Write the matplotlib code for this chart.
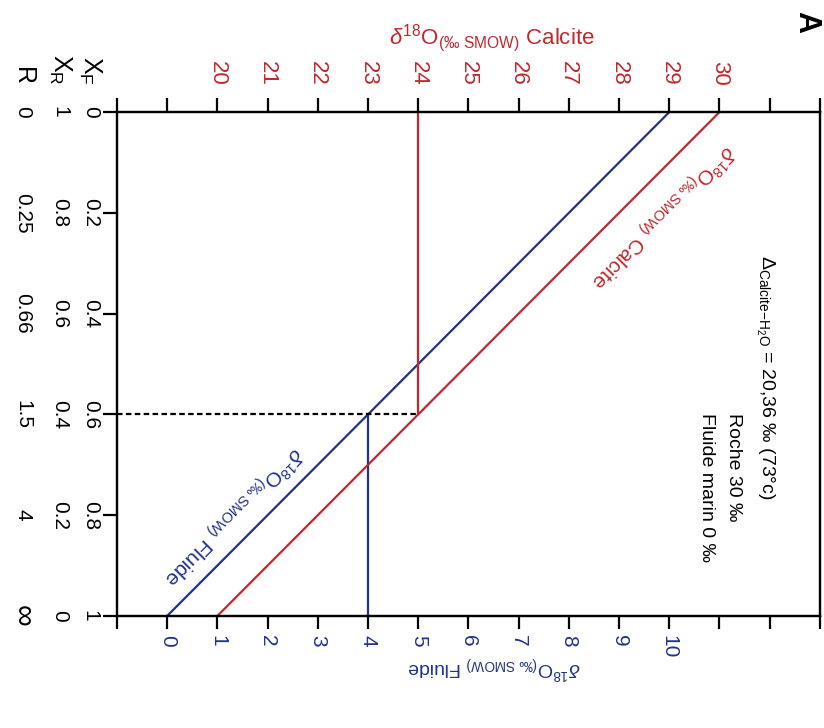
import matplotlib.pyplot as plt
from matplotlib import transforms

plt.rcParams['font.family'] = ['Liberation Sans', 'DejaVu Sans']
plt.rcParams['mathtext.fontset'] = 'custom'
plt.rcParams['mathtext.rm'] = 'Liberation Sans'
plt.rcParams['mathtext.it'] = 'Liberation Sans:italic'
plt.rcParams['mathtext.bf'] = 'Liberation Sans:bold'

RED = '#c1272d'
BLUE = '#22318a'

# fraction de fluide XF (0 en haut, 1 en bas)
xf = [0, 1]
calcite = [30, 20]     # d18O calcite (axe du haut)
fluide = [10, 0]       # d18O fluide (axe du bas)
xf_cut = 0.6
calcite_cut = 24
fluide_cut = 4

fluide_ticks = list(range(-1, 14))
fluide_labels = [str(v) if 0 <= v <= 10 else '' for v in fluide_ticks]
calcite_ticks = list(range(18, 33))
calcite_labels = [str(v) if 20 <= v <= 30 else '' for v in calcite_ticks]

xf_ticks = [0, 0.2, 0.4, 0.6, 0.8, 1]
xf_labels = ['0', '0.2', '0.4', '0.6', '0.8', '1']
xr_labels = ['1', '0.8', '0.6', '0.4', '0.2', '0']
r_labels = ['0', '0.25', '0.66', '1.5', '4', '∞']

fig = plt.figure(figsize=(8.24, 7.28), dpi=100)
ax = fig.add_axes([0.142, 0.154, 0.853, 0.692])
ax.set_xlim(-1, 13)
ax.set_ylim(1, 0)
axc = ax.twiny()
axc.set_xlim(18, 32)

for a in (ax, axc):
    for s in a.spines.values():
        s.set_linewidth(1.6)

# droites
axc.plot(calcite, xf, color=RED, lw=1.6)
ax.plot(fluide, xf, color=BLUE, lw=1.6)
axc.plot([calcite_cut, calcite_cut], [0, xf_cut], color=RED, lw=1.6)
ax.plot([fluide_cut, fluide_cut], [xf_cut, 1], color=BLUE, lw=1.6)
axc.plot([18, calcite_cut], [xf_cut, xf_cut], color='black', lw=1.6, ls=(0, (2.5, 1.5)))

# axe du bas (fluide)
ax.set_xticks(fluide_ticks)
ax.set_xticklabels(fluide_labels)
ax.tick_params(axis='x', direction='out', length=9, width=1.6, pad=5,
               labelcolor=BLUE, labelsize=15, labelrotation=-90)
ax.set_yticks(xf_ticks)
ax.set_yticklabels([])
ax.tick_params(axis='y', direction='out', length=10, width=1.6)

# axe du haut (calcite)
axc.set_xticks(calcite_ticks)
axc.set_xticklabels(calcite_labels)
axc.tick_params(axis='x', direction='out', length=10, width=1.6, pad=9,
                labelcolor=RED, labelsize=16, labelrotation=-90)

sub = r'$_{\mathrm{(‰\ SMOW)}}$'
ax.text(0.533, 1.147, r'$\delta^{18}$O' + sub + ' Calcite', transform=ax.transAxes,
        color=RED, fontsize=16, ha='center', va='center')
ax.text(0.536, -0.102, r'$\delta^{18}$O' + sub + ' Fluide', transform=ax.transAxes,
        color=BLUE, fontsize=14, ha='center', va='center', rotation=180)

# etiquettes le long des droites
axc.text(28.85, 0.205, r'$\delta^{18}$O' + sub + ' Calcite', color=RED, fontsize=15,
         rotation=225, rotation_mode='anchor', ha='center', va='center')
ax.text(1.3, 0.8, r'$\delta^{18}$O' + sub + ' Fluide', color=BLUE, fontsize=15,
        rotation=225, rotation_mode='anchor', ha='center', va='center')

# colonnes XF, XR, R
tr = transforms.blended_transform_factory(ax.transAxes, ax.transData)
cols = [(-0.038, xf_labels, r'X$_{\mathrm{F}}$'),
        (-0.081, xr_labels, r'X$_{\mathrm{R}}$'),
        (-0.134, r_labels, 'R')]
for xpos, labels, head in cols:
    for yv, lab in zip(xf_ticks, labels):
        size = 22 if lab == '∞' else 15
        ax.text(xpos, yv, lab, transform=tr, rotation=-90, fontsize=size,
                ha='center', va='center')
    ax.text(xpos, -0.054, head, transform=tr, rotation=-90, fontsize=18,
            ha='center', va='bottom')

# encart
ax.text(11.91, 0.284, r'$\Delta_{\mathrm{Calcite\!-\!H_2O}}$ = 20,36 ‰ (73°c)',
        rotation=-90, fontsize=14, ha='center', va='top')
ax.text(11.27, 0.597, 'Roche 30 ‰', rotation=-90, fontsize=14, ha='center', va='top')
ax.text(10.75, 0.597, 'Fluide marin 0 ‰', rotation=-90, fontsize=14, ha='center', va='top')

fig.text(806 / 824, 1 - 22 / 728, 'A', rotation=-90, fontsize=22, fontweight='bold',
         ha='center', va='center')

fig.savefig('out.png', dpi=100)
